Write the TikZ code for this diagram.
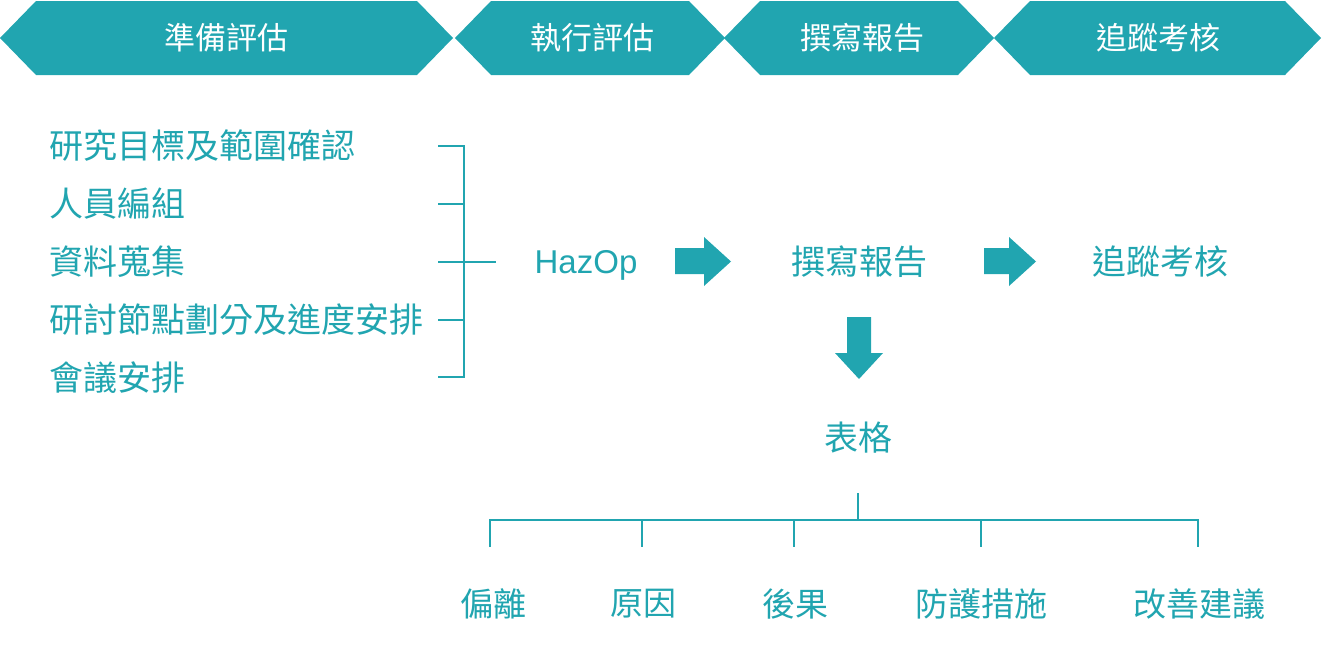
\documentclass[tikz,border=0pt]{standalone}
\usepackage{fontspec}
\newfontfamily\cjk{Noto Sans CJK TC}
\newfontfamily\lat{Liberation Sans}
\definecolor{teal}{RGB}{33,165,176}
\begin{document}
\begin{tikzpicture}[x=1pt,y=-1pt,
  hdr/.style={text=white,font=\cjk\fontsize{31}{36}\selectfont,inner sep=0pt},
  item/.style={text=teal,font=\cjk\fontsize{33}{38}\selectfont,inner sep=0pt},
  big/.style={text=teal,font=\cjk\fontsize{34}{39}\selectfont,inner sep=0pt},
  conn/.style={draw=teal,line width=2.8pt},
  chev/.style={fill=teal},
  blk/.style={fill=teal}]
\useasboundingbox (0,0) rectangle (1322,659);
% chevrons
\fill[chev] (0,38) -- (36,1) -- (417,1) -- (453,38) -- (417,75) -- (36,75) -- cycle;
\fill[chev] (455,38) -- (491,1) -- (689,1) -- (725,38) -- (689,75) -- (491,75) -- cycle;
\fill[chev] (724,38) -- (760,1) -- (958,1) -- (994,38) -- (958,75) -- (760,75) -- cycle;
\fill[chev] (994,38) -- (1030,1) -- (1285,1) -- (1321,38) -- (1285,75) -- (1030,75) -- cycle;
\node[hdr] (h1) at (226,38) {準備評估};
\node[hdr] (h2) at (592,38) {執行評估};
\node[hdr] (h3) at (862,38) {撰寫報告};
\node[hdr] (h4) at (1158,38) {追蹤考核};
% left list
\node[big,anchor=west] (l1) at (49,146) {研究目標及範圍確認};
\node[big,anchor=west] (l2) at (49,204) {人員編組};
\node[big,anchor=west] (l3) at (49,262) {資料蒐集};
\node[big,anchor=west] (l4) at (49,320) {研討節點劃分及進度安排};
\node[big,anchor=west] (l5) at (49,378) {會議安排};
% bracket
\coordinate (b1) at (438,146);
\coordinate (b2) at (438,204);
\coordinate (b3) at (438,262);
\coordinate (b4) at (438,320);
\coordinate (b5) at (438,377);
\coordinate (v1) at (464,146);
\coordinate (v2) at (464,204);
\coordinate (v3) at (464,262);
\coordinate (v4) at (464,320);
\coordinate (v5) at (464,377);
\coordinate (m) at (496,262);
\draw[conn] (b1) -- (v1) -- (v5) -- (b5);
\draw[conn] (b2) -- (v2);
\draw[conn] (b3) -- (m);
\draw[conn] (b4) -- (v4);
% middle row
\node[text=teal,font=\lat\fontsize{33}{38}\selectfont,inner sep=0pt] (hz) at (586,265) {HazOp};
\node[big] (r) at (859,262) {撰寫報告};
\node[big] (t) at (1160,262) {追蹤考核};
\node[big] (tab) at (858,438) {表格};
% block arrows
\fill[blk] (675,248) -- (704,248) -- (704,237) -- (731,261.5) -- (704,286) -- (704,274) -- (675,274) -- cycle;
\fill[blk] (984,248) -- (1009,248) -- (1009,237) -- (1036,261.5) -- (1009,286) -- (1009,274) -- (984,274) -- cycle;
\fill[blk] (847,317) -- (871,317) -- (871,353) -- (883,353) -- (859,379) -- (835,353) -- (847,353) -- cycle;
% tree
\node[item] (c1) at (493,604) {偏離};
\node[item] (c2) at (643,604) {原因};
\node[item] (c3) at (795,604) {後果};
\node[item] (c4) at (981,604) {防護措施};
\node[item] (c5) at (1199,604) {改善建議};
\coordinate (s0) at (858,493);
\coordinate (s1) at (858,520);
\coordinate (d1) at (490,520);
\coordinate (d2) at (642,520);
\coordinate (d3) at (794,520);
\coordinate (d4) at (981,520);
\coordinate (d5) at (1198,520);
\coordinate (e1) at (490,547);
\coordinate (e2) at (642,547);
\coordinate (e3) at (794,547);
\coordinate (e4) at (981,547);
\coordinate (e5) at (1198,547);
\draw[conn] (s0) -- (s1);
\draw[conn] (e1) -- (d1) -- (d5) -- (e5);
\draw[conn] (d2) -- (e2);
\draw[conn] (d3) -- (e3);
\draw[conn] (d4) -- (e4);
\end{tikzpicture}
\end{document}
